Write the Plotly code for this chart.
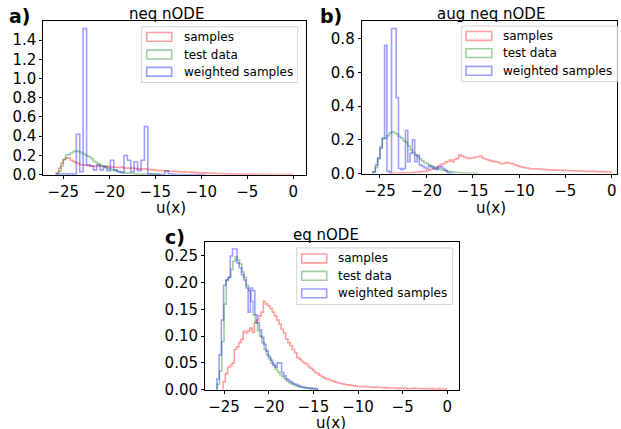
import plotly.graph_objects as go

# ---------------- data (density histograms, step style) ----------------
# shared test data
test_start = -25.75
test_width = 0.25
test_data = [0.01, 0.035, 0.09, 0.16, 0.205, 0.21, 0.225, 0.24, 0.248, 0.242,
             0.235, 0.22, 0.21, 0.195, 0.185, 0.165, 0.14, 0.125, 0.11, 0.1,
             0.088, 0.075, 0.065, 0.058, 0.05, 0.045, 0.038, 0.033, 0.028, 0.024,
             0.02, 0.016, 0.013, 0.011, 0.009, 0.007, 0.006, 0.005, 0.004, 0.003,
             0.003, 0.002, 0.002, 0.001, 0.001]

# panel a) neq nODE
a_samples_start = -25.75
a_samples_width = 0.25
a_samples = [0.02, 0.068, 0.12, 0.155, 0.175, 0.172, 0.15, 0.138, 0.125, 0.118,
             0.105, 0.1, 0.102, 0.096, 0.094, 0.09, 0.086, 0.09, 0.093, 0.088,
             0.086, 0.084, 0.086, 0.08, 0.078, 0.079, 0.077, 0.075, 0.078, 0.07,
             0.068, 0.069, 0.066, 0.068, 0.064, 0.06, 0.058, 0.059, 0.057, 0.056,
             0.054, 0.052, 0.05, 0.046, 0.043, 0.042, 0.041, 0.04, 0.038, 0.036,
             0.035, 0.034, 0.033, 0.031, 0.03, 0.029, 0.028, 0.027, 0.026, 0.024,
             0.022, 0.021, 0.02, 0.018, 0.017, 0.016, 0.015, 0.014, 0.013, 0.012,
             0.012, 0.011, 0.01, 0.009, 0.009, 0.008, 0.008, 0.007, 0.007, 0.006,
             0.006, 0.005, 0.005, 0.005, 0.004, 0.004, 0.004, 0.003, 0.003, 0.003,
             0.003, 0.002, 0.002, 0.002, 0.002, 0.002, 0.001, 0.001, 0.001, 0.001,
             0.001, 0.001, 0.001]
a_weighted_start = -25.8
a_weighted_width = 0.37
a_weighted = [0.0, 0.005, 0.01, 0.005, 0.01, 0.005, 0.42, 0.03, 1.52, 0.1,
              0.09, 0.05, 0.1, 0.05, 0.085, 0.04, 0.15, 0.05, 0.03, 0.02,
              0.2, 0.15, 0.03, 0.135, 0.04, 0.15, 0.5, 0.01, 0.005, 0.005,
              0.004, 0.003, 0.04, 0.01, 0.003, 0.002, 0.002, 0.001, 0.001, 0.002,
              0.001, 0.0, 0.001, 0.0]

# panel b) aug neq nODE
b_samples_start = -24.0
b_samples_width = 0.25
b_samples = [0.001, 0.001, 0.002, 0.002, 0.003, 0.003, 0.004, 0.005,
             0.005, 0.006, 0.007, 0.008, 0.009, 0.01, 0.012, 0.014,
             0.018, 0.022, 0.026, 0.03, 0.036, 0.045, 0.052, 0.058,
             0.068, 0.072, 0.08, 0.07, 0.085, 0.09, 0.11, 0.105,
             0.098, 0.092, 0.09, 0.092, 0.094, 0.098, 0.1, 0.104,
             0.092, 0.088, 0.082, 0.078, 0.074, 0.071, 0.07, 0.064,
             0.058, 0.06, 0.065, 0.064, 0.06, 0.058, 0.05, 0.046,
             0.042, 0.038, 0.035, 0.033, 0.03, 0.029, 0.028, 0.028,
             0.027, 0.026, 0.025, 0.024, 0.023, 0.023, 0.022, 0.021,
             0.02, 0.02, 0.019, 0.019, 0.018, 0.017, 0.017, 0.017,
             0.016, 0.016, 0.015, 0.015, 0.014, 0.014, 0.013, 0.013,
             0.012, 0.012, 0.011, 0.012, 0.01, 0.011, 0.009, 0.008]
b_weighted_start = -25.75
b_weighted_width = 0.25
b_weighted = [0.01, 0.05, 0.09, 0.15, 0.21, 0.76, 0.015, 0.01, 0.86, 0.86,
              0.45, 0.03, 0.025, 0.03, 0.255, 0.07, 0.12, 0.2, 0.07, 0.11,
              0.05, 0.045, 0.035, 0.03, 0.045, 0.04, 0.03, 0.025, 0.04, 0.04,
              0.03, 0.02, 0.005, 0.002]

# panel c) eq nODE
c_samples_start = -25.1
c_samples_width = 0.25
c_samples = [0.015, 0.03, 0.042, 0.045, 0.05, 0.075, 0.08, 0.088, 0.094, 0.109,
             0.106, 0.11, 0.115, 0.107, 0.125, 0.13, 0.138, 0.145, 0.165, 0.16,
             0.157, 0.152, 0.145, 0.138, 0.13, 0.122, 0.113, 0.106, 0.095, 0.088,
             0.082, 0.075, 0.069, 0.06, 0.057, 0.053, 0.05, 0.048, 0.043, 0.04,
             0.036, 0.032, 0.03, 0.027, 0.024, 0.022, 0.02, 0.019, 0.017, 0.016,
             0.014, 0.013, 0.012, 0.011, 0.01, 0.009, 0.009, 0.008, 0.007, 0.007,
             0.006, 0.006, 0.006, 0.005, 0.006, 0.005, 0.005, 0.004, 0.005, 0.004,
             0.004, 0.004, 0.003, 0.004, 0.003, 0.003, 0.003, 0.003, 0.002, 0.003,
             0.002, 0.003, 0.002, 0.002, 0.002, 0.003, 0.002, 0.002, 0.002, 0.001,
             0.002, 0.002, 0.001, 0.002, 0.001, 0.001, 0.002, 0.001, 0.001, 0.001]
c_weighted_start = -25.8
c_weighted_width = 0.25
c_weighted = [0.02, 0.065, 0.13, 0.195, 0.205, 0.21, 0.25, 0.263, 0.263, 0.237,
              0.228, 0.215, 0.205, 0.19, 0.145, 0.19, 0.185, 0.14, 0.125, 0.112,
              0.098, 0.085, 0.072, 0.062, 0.055, 0.047, 0.042, 0.05, 0.05, 0.032,
              0.026, 0.02, 0.017, 0.014, 0.011, 0.01, 0.008, 0.006, 0.005, 0.004,
              0.003, 0.003, 0.002, 0.002, 0.001]

x_tick_vals = [-25, -20, -15, -10, -5, 0]
legend_labels = ["samples", "test data", "weighted samples"]
panel_titles = ["neq nODE", "aug neq nODE", "eq nODE"]
panel_tags = ["a)", "b)", "c)"]

# ---------------- styling ----------------
W, H = 621, 429
FONT = "DejaVu Sans"
COLORS = ["rgba(255,0,0,0.38)", "rgba(0,128,0,0.38)", "rgba(0,0,255,0.38)"]


def px(x):
    return x / W


def py(y):
    return 1 - y / H


def step_xy(start, width, heights):
    edges = [start + width * i for i in range(len(heights) + 1)]
    xs = [edges[0]] + edges[:-1] + [edges[-1]]
    ys = [0] + list(heights) + [0]
    return xs, ys


panels = [
    dict(series=[(a_samples_start, a_samples_width, a_samples),
                 (test_start, test_width, test_data),
                 (a_weighted_start, a_weighted_width, a_weighted)],
         xdom=[px(43.3), px(306)], ydom=[py(178.4), py(21.7)],
         xr=[-27.17, 1.38], yr=[0, 1.596], dtick=0.2, fmt=".1f",
         title=(166.7, 14), tag=(7, 16), xlabel=(171, 201.5),
         legend=dict(box=(141.7, 297.7, 27.3, 84.3), patch=(146.7, 171.7),
                     text=182, rows=[37.7, 55.7, 73.3])),
    dict(series=[(b_samples_start, b_samples_width, b_samples),
                 (test_start, test_width, test_data),
                 (b_weighted_start, b_weighted_width, b_weighted)],
         xdom=[px(361.7), px(616.7)], ydom=[py(177.3), py(21.7)],
         xr=[-26.97, 0.54], yr=[0, 0.903], dtick=0.2, fmt=".1f",
         title=(490.5, 14), tag=(318, 16), xlabel=(491, 201.5),
         legend=dict(box=(461.7, 617.3, 26.7, 83.3), patch=(466, 491.7),
                     text=500.7, rows=[36.7, 54.3, 72.3])),
    dict(series=[(c_samples_start, c_samples_width, c_samples),
                 (test_start, test_width, test_data),
                 (c_weighted_start, c_weighted_width, c_weighted)],
         xdom=[px(205), px(459.3)], ydom=[py(398), py(246.7)],
         xr=[-27.13, 1.34], yr=[0, 0.277], dtick=0.05, fmt=".2f",
         title=(326.3, 240.5), tag=(163, 242), xlabel=(331, 420.5),
         legend=dict(box=(296.7, 452.7, 253.3, 311), patch=(301.7, 326.7),
                     text=336, rows=[264, 281.7, 299.7])),
]

fig = go.Figure()
shapes = []
annotations = []

for i, p in enumerate(panels):
    sfx = "" if i == 0 else str(i + 1)
    for k, (start, width, heights) in enumerate(p["series"]):
        xs, ys = step_xy(start, width, heights)
        fig.add_trace(go.Scatter(x=xs, y=ys, mode="lines", line_shape="hv",
                                 line=dict(color=COLORS[k], width=1.6),
                                 name=legend_labels[k], showlegend=False,
                                 xaxis="x" + sfx, yaxis="y" + sfx,
                                 hoverinfo="skip"))
    axis_common = dict(showline=True, linecolor="black", linewidth=1, mirror=True,
                       ticks="outside", ticklen=3, tickcolor="black", showgrid=False,
                       zeroline=False, tickfont=dict(family=FONT, size=15, color="black"))
    fig.layout["xaxis" + sfx] = dict(domain=p["xdom"], range=p["xr"], tickvals=x_tick_vals,
                                     anchor="y" + sfx, **axis_common)
    fig.layout["yaxis" + sfx] = dict(domain=p["ydom"], range=p["yr"], dtick=p["dtick"],
                                     tick0=0, tickformat=p["fmt"], anchor="x" + sfx,
                                     **axis_common)
    annotations.append(dict(text=panel_titles[i], x=px(p["title"][0]), y=py(p["title"][1]),
                            xref="paper", yref="paper", showarrow=False,
                            xanchor="center", yanchor="middle",
                            font=dict(family=FONT, size=15, color="black")))
    annotations.append(dict(text="<b>" + panel_tags[i] + "</b>", x=px(p["tag"][0]),
                            y=py(p["tag"][1]), xref="paper", yref="paper", showarrow=False,
                            xanchor="left", yanchor="middle",
                            font=dict(family=FONT, size=19, color="black")))
    annotations.append(dict(text="u(x)", x=px(p["xlabel"][0]), y=py(p["xlabel"][1]),
                            xref="paper", yref="paper", showarrow=False,
                            xanchor="center", yanchor="top",
                            font=dict(family=FONT, size=15, color="black")))
    lg = p["legend"]
    x0, x1, y0, y1 = lg["box"]
    shapes.append(dict(type="rect", xref="paper", yref="paper",
                       x0=px(x0), x1=px(x1), y0=py(y1), y1=py(y0),
                       line=dict(color="#d6d6d6", width=1), fillcolor="rgba(255,255,255,0.8)",
                       layer="above"))
    for k, ry in enumerate(lg["rows"]):
        shapes.append(dict(type="rect", xref="paper", yref="paper",
                           x0=px(lg["patch"][0]), x1=px(lg["patch"][1]),
                           y0=py(ry + 4.5), y1=py(ry - 4.5),
                           line=dict(color=COLORS[k], width=1.6), fillcolor="rgba(0,0,0,0)",
                           layer="above"))
        annotations.append(dict(text=legend_labels[k], x=px(lg["text"]), y=py(ry),
                                xref="paper", yref="paper", showarrow=False,
                                xanchor="left", yanchor="middle",
                                font=dict(family=FONT, size=12, color="black")))

fig.update_layout(width=W, height=H, margin=dict(l=0, r=0, t=0, b=0),
                  paper_bgcolor="white", plot_bgcolor="white",
                  shapes=shapes, annotations=annotations, showlegend=False)

fig.write_html("out.html", config={"displayModeBar": False},
               post_script="document.body.style.margin='0';document.body.style.overflow='hidden';")
